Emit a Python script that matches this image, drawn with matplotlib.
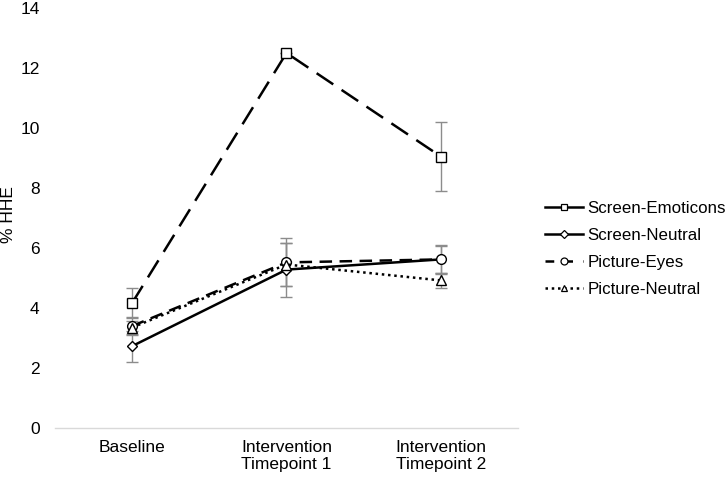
import matplotlib.pyplot as plt
import numpy as np
from matplotlib.lines import Line2D

plt.rcParams['font.family'] = ['Liberation Sans', 'DejaVu Sans']

# === data ===
categories = ['Baseline', 'Intervention\nTimepoint 1', 'Intervention\nTimepoint 2']
series_names = ['Screen-Emoticons', 'Screen-Neutral', 'Picture-Eyes', 'Picture-Neutral']
screen_emoticons = [4.17, 12.5, 9.05]
screen_neutral = [2.73, 5.28, 5.62]
picture_eyes = [3.4, 5.52, 5.62]
picture_neutral = [3.35, 5.45, 4.92]
err_emoticons = [0.5, 0.0, 1.15]
err_screen_neutral = [0.52, 0.9, 0.45]
err_picture_eyes = [0.3, 0.8, 0.48]
err_picture_neutral = [0.22, 0.72, 0.25]

values = [screen_emoticons, screen_neutral, picture_eyes, picture_neutral]
errors = [err_emoticons, err_screen_neutral, err_picture_eyes, err_picture_neutral]
markers = ['s', 'D', 'o', '^']
styles = [(0, (8, 4)), '-', (0, (5, 3)), (0, (1, 1.5))]
legend_styles = ['-', '-', (0, (3.5, 4)), (0, (1, 1.5))]

fig = plt.figure(figsize=(7.28, 4.79), dpi=100)
ax = fig.add_axes([55 / 728, 51 / 479, 463 / 728, 420 / 479])

x = np.arange(len(categories))
# gray error bars underneath
for v, e in zip(values, errors):
    ax.errorbar(x, v, yerr=e, fmt='none', ecolor='#8c8c8c', elinewidth=1.0,
                capsize=4, capthick=1.0, zorder=1)

for v, m, ls in zip(values, markers, styles):
    ax.plot(x, v, color='black', linestyle=ls, linewidth=1.8, marker=m,
            markersize=7 if m != 'D' else 5.5, markerfacecolor='white',
            markeredgecolor='black', markeredgewidth=1.0, zorder=3)

ax.set_xlim(-0.5, 2.5)
ax.set_ylim(0, 14)
ax.set_yticks(np.arange(0, 15, 2))
ax.set_xticks(x)
ax.set_xticklabels(categories, fontsize=12.5, linespacing=1.1)
ax.tick_params(axis='y', labelsize=12.5, length=0, pad=11)
ax.tick_params(axis='x', length=0, pad=9)
for s in ['top', 'right', 'left']:
    ax.spines[s].set_visible(False)
ax.spines['bottom'].set_color('#d9d9d9')
ax.spines['bottom'].set_linewidth(1.0)

fig.text(9 / 728, 1 - 215 / 479, '% HHE', rotation=90, fontsize=12.5,
         ha='center', va='center')

handles = [Line2D([0], [0], color='black', linestyle=ls, linewidth=1.8, marker=m,
                  markersize=5 if m != 'D' else 4.5, markerfacecolor='white',
                  markeredgecolor='black', markeredgewidth=0.9)
           for m, ls in zip(markers, legend_styles)]
fig.legend(handles, series_names, loc='center left', bbox_to_anchor=(545 / 728, 1 - 249 / 479),
           frameon=False, fontsize=12.2, handlelength=2.25, handletextpad=0.25,
           labelspacing=0.72, borderpad=0, borderaxespad=0)

fig.savefig('out.png', dpi=100)
